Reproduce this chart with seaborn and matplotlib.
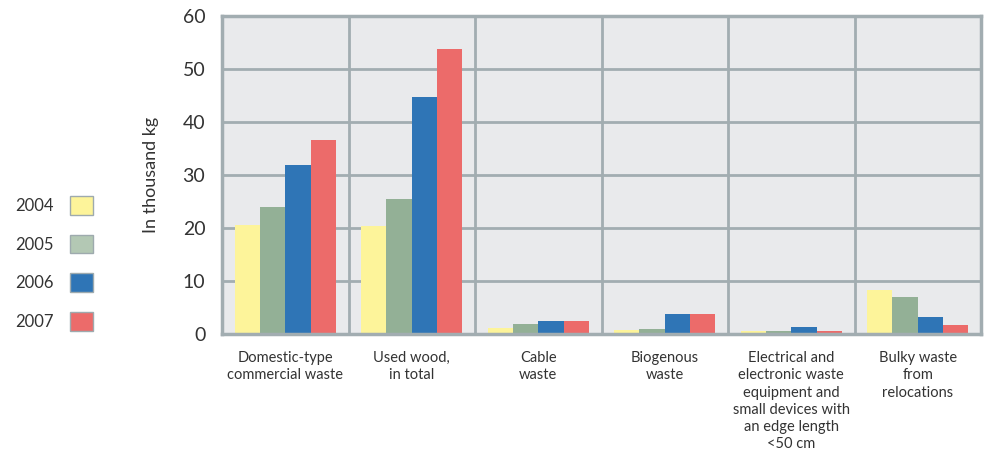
import matplotlib
matplotlib.use("Agg")
import matplotlib.pyplot as plt
from matplotlib.patches import Patch
import pandas as pd
import seaborn as sns

categories = [
    "Domestic-type\ncommercial waste",
    "Used wood,\nin total",
    "Cable\nwaste",
    "Biogenous\nwaste",
    "Electrical and\nelectronic waste\nequipment and\nsmall devices with\nan edge length\n<50 cm",
    "Bulky waste\nfrom\nrelocations",
]
years = ["2004", "2005", "2006", "2007"]
values_2004 = [20.6, 20.4, 1.2, 0.9, 0.6, 8.4]
values_2005 = [24.0, 25.5, 1.9, 1.0, 0.7, 7.0]
values_2006 = [31.8, 44.6, 2.5, 3.8, 1.4, 3.3]
values_2007 = [36.5, 53.8, 2.5, 3.8, 0.6, 1.7]

bar_colors = ["#fdf49a", "#93b096", "#2f75b6", "#ec6b6a"]
legend_colors = ["#fdf49a", "#b3c8b4", "#2f75b6", "#ec6b6a"]
grid_color = "#a2adb1"
text_color = "#333333"

df = pd.DataFrame({
    "category": categories * 4,
    "year": [y for y in years for _ in categories],
    "value": values_2004 + values_2005 + values_2006 + values_2007,
})

sns.set_theme(style="white")
plt.rcParams["font.family"] = ["Lato", "DejaVu Sans"]

fig = plt.figure(figsize=(9.86, 4.66), dpi=100)
ax = fig.add_axes([222 / 986, 1 - 334.3 / 466, (981 - 222) / 986, (334.3 - 15.7) / 466])
ax.set_facecolor("#e9eaec")

sns.barplot(data=df, x="category", y="value", hue="year", palette=bar_colors,
            width=0.8, saturation=1, ax=ax, legend=False, zorder=2,
            linewidth=0, edgecolor="none")

ax.set_ylim(0, 60)
ax.set_xlim(-0.5, len(categories) - 0.5)
ax.set_yticks(range(0, 61, 10))
ax.yaxis.grid(True, color=grid_color, linewidth=2, zorder=1)
ax.set_axisbelow(True)
for i in range(len(categories) - 1):
    ax.axvline(i + 0.5, color=grid_color, linewidth=2, zorder=1)
for s in ax.spines.values():
    s.set_color(grid_color)
    s.set_linewidth(2.5)
    s.set_zorder(3)

ax.tick_params(axis="y", length=0, pad=12, labelsize=14, labelcolor=text_color)
ax.tick_params(axis="x", length=0, pad=12, labelsize=10.5, labelcolor=text_color)
for lbl in ax.get_xticklabels():
    lbl.set_horizontalalignment("center")
    lbl.set_verticalalignment("top")
    lbl.set_multialignment("center")
    lbl.set_linespacing(1.3)
ax.set_xlabel("")
ax.set_ylabel("In thousand kg", fontsize=13, color=text_color, labelpad=17)

handles = [Patch(facecolor=c, edgecolor="#9eaaae", linewidth=1) for c in legend_colors]
fig.legend(handles, years, loc="upper left", bbox_to_anchor=(15 / 986, 1 - 196 / 466),
           frameon=False, markerfirst=False, fontsize=12, labelcolor=text_color,
           handlelength=1.35, handleheight=1.35, labelspacing=1.2,
           handletextpad=1.0, borderpad=0, borderaxespad=0)

fig.savefig("out.png", dpi=100)
